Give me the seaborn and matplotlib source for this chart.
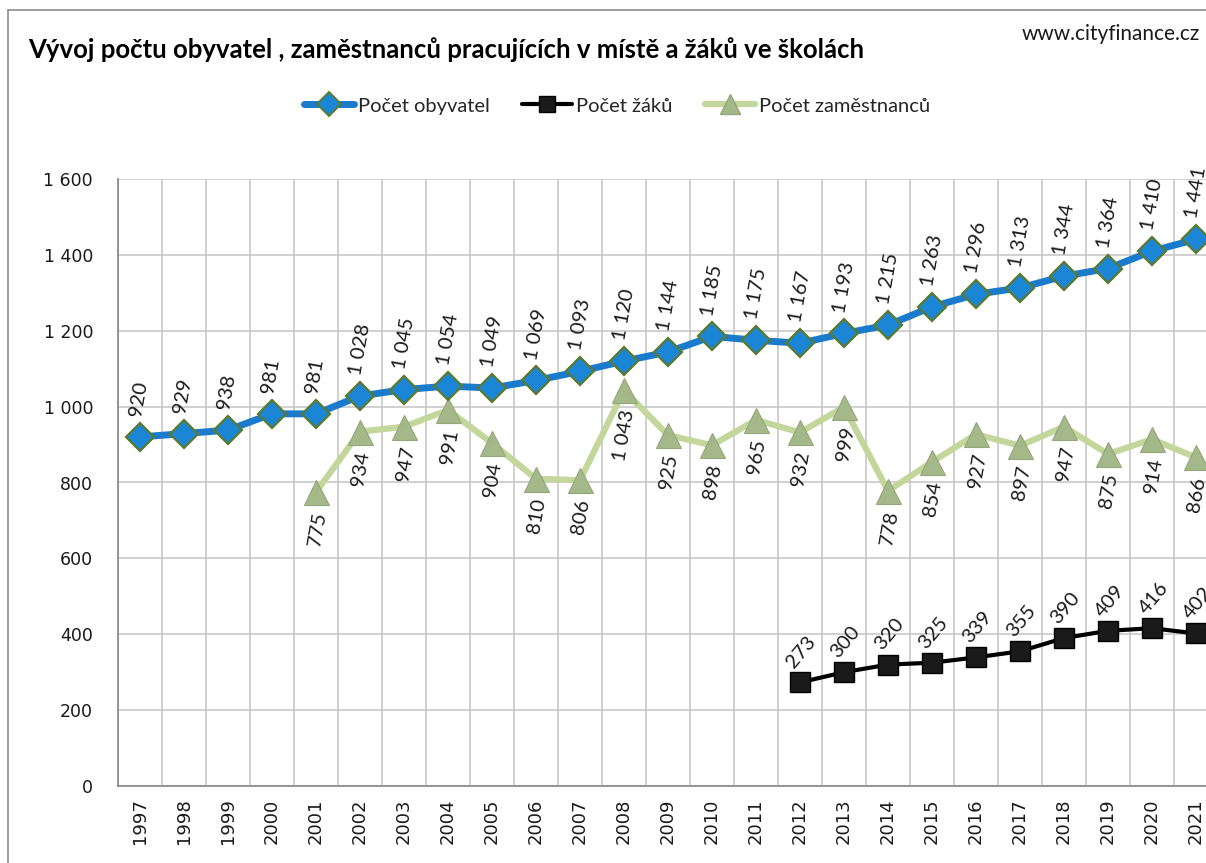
import matplotlib
matplotlib.use("Agg")
import matplotlib.pyplot as plt
import seaborn as sns
import pandas as pd
from matplotlib.lines import Line2D
from matplotlib.ticker import FuncFormatter, MultipleLocator

years = list(range(1997, 2022))
obyvatel = [920, 929, 938, 981, 981, 1028, 1045, 1054, 1049, 1069, 1093, 1120, 1144,
            1185, 1175, 1167, 1193, 1215, 1263, 1296, 1313, 1344, 1364, 1410, 1441]
zam_years = list(range(2001, 2022))
zamestnancu = [775, 934, 947, 991, 904, 810, 806, 1043, 925, 898, 965, 932, 999,
               778, 854, 927, 897, 947, 875, 914, 866]
zak_years = list(range(2012, 2022))
zaku = [273, 300, 320, 325, 339, 355, 390, 409, 416, 402]

title = "Vývoj počtu obyvatel , zaměstnanců pracujících v místě a žáků ve školách"
source = "www.cityfinance.cz"
names = ["Počet obyvatel", "Počet žáků", "Počet zaměstnanců"]

sns.set_theme(style="white")
plt.rcParams['font.family'] = ['Lato', 'DejaVu Sans']

W, H = 1206, 863
fig = plt.figure(figsize=(W / 100, H / 100), dpi=100)
fig.patch.set_facecolor("white")

# chart border
fig.add_artist(Line2D([8 / W, 8 / W], [0, 1 - 10 / H], color="#8c8c8c", lw=1.2, transform=fig.transFigure))
fig.add_artist(Line2D([8 / W, 1], [1 - 10 / H, 1 - 10 / H], color="#8c8c8c", lw=1.2, transform=fig.transFigure))

ax = fig.add_axes([118 / W, 1 - 786 / H, 1100 / W, 607 / H])

blue = "#1A7ACB"
green = "#C3D69B"
tri = "#A5B88A"

df_o = pd.DataFrame({"year": years, "v": obyvatel})
df_z = pd.DataFrame({"year": zam_years, "v": zamestnancu})
df_k = pd.DataFrame({"year": zak_years, "v": zaku})

sns.lineplot(data=df_z, x="year", y="v", ax=ax, color=green, lw=4.5, marker="^",
             markersize=18, markerfacecolor=tri, markeredgecolor="#93A77A", markeredgewidth=0.8, zorder=3)
sns.lineplot(data=df_k, x="year", y="v", ax=ax, color="black", lw=3, marker="s",
             markersize=14, markerfacecolor="#1a1a1a", markeredgecolor="black", markeredgewidth=1, zorder=4)
sns.lineplot(data=df_o, x="year", y="v", ax=ax, color=blue, lw=5, marker="D",
             markersize=14.5, markerfacecolor="#1C86D6", markeredgecolor="#5A7A2E", markeredgewidth=1.6, zorder=5)

ax.set_xlim(1996.5, 2021.5)
ax.set_ylim(0, 1600)
ax.set_xlabel("")
ax.set_ylabel("")

def fmt(v):
    return f"{int(v):,}".replace(",", " ")

ax.yaxis.set_major_locator(MultipleLocator(200))
ax.yaxis.set_major_formatter(FuncFormatter(lambda v, p: fmt(v)))
ax.set_xticks(years)
ax.set_xticklabels([str(y) for y in years], rotation=90, fontfamily="DejaVu Sans", fontsize=13)
ax.set_xticks([y - 0.5 for y in years] + [2021.5], minor=True)
ax.tick_params(axis="x", which="major", length=0, pad=9)
ax.tick_params(axis="x", which="minor", length=6, width=1, color="#868686", direction="out")
ax.tick_params(axis="y", length=6, width=1, color="#868686", direction="out", pad=12)
for lab in ax.get_yticklabels():
    lab.set_fontfamily("DejaVu Sans")
    lab.set_fontsize(12.5)
ax.tick_params(colors="#1a1a1a", which="major")
ax.tick_params(axis="x", which="minor", color="#868686")
ax.tick_params(axis="y", color="#868686")

ax.grid(False)
ax.grid(True, which="major", axis="y", color="#C8C8C8", lw=1.2, zorder=0)
ax.grid(True, which="minor", axis="x", color="#C8C8C8", lw=1.2, zorder=0)
ax.set_axisbelow(True)
for s in ["top", "right"]:
    ax.spines[s].set_visible(False)
for s in ["left", "bottom"]:
    ax.spines[s].set_color("#868686")
    ax.spines[s].set_linewidth(1.2)

lab_kw = dict(textcoords="offset points", rotation=80, rotation_mode="anchor",
              fontsize=14.5, color="#1a1a1a", va="center")
for x, v in zip(years, obyvatel):
    ax.annotate(fmt(v), (x, v), xytext=(-3, 15), ha="left", **lab_kw)
for x, v in zip(zam_years, zamestnancu):
    ax.annotate(fmt(v), (x, v), xytext=(3, -14), ha="right", **lab_kw)
for x, v in zip(zak_years, zaku):
    ax.annotate(fmt(v), (x, v), xytext=(-7, 12), ha="left", textcoords="offset points",
                rotation=50, rotation_mode="anchor", fontsize=14.5, color="#1a1a1a", va="center")

fig.text(28 / W, 1 - 50 / H, title, fontsize=18.5, fontweight="bold", color="black",
         ha="left", va="center")
fig.text(1200 / W, 1 - 34 / H, source, fontsize=15, color="#1a1a1a", ha="right", va="center")

handles = [
    Line2D([], [], color=blue, lw=5, marker="D", markersize=12, markerfacecolor="#1C86D6",
           markeredgecolor="#5A7A2E", markeredgewidth=1.4),
    Line2D([], [], color="black", lw=3, marker="s", markersize=11, markerfacecolor="#1a1a1a",
           markeredgecolor="black"),
    Line2D([], [], color=green, lw=4.5, marker="^", markersize=14, markerfacecolor=tri,
           markeredgecolor="#93A77A"),
]
fig.legend(handles, names, loc="center", bbox_to_anchor=(617 / W, 1 - 106 / H), ncol=3,
           frameon=False, fontsize=14.5, handlelength=2.5, handletextpad=0.2, columnspacing=1.6)

fig.savefig("out.png", dpi=100)
